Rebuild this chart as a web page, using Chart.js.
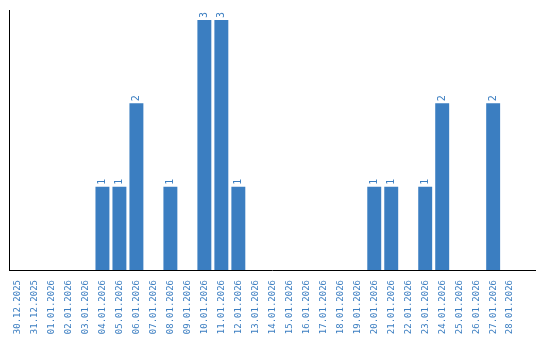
<!DOCTYPE html>
<html>
<head>
<meta charset="utf-8">
<script src="https://cdn.jsdelivr.net/npm/chart.js@4"></script>
<style>
    body { margin: 0; background: #fff; }
    #wrap { width: 540px; height: 340px; }
</style>
</head>
<body>
<div id="wrap"><canvas id="dayChart"></canvas></div>
<script>
// Data
const days = ['30.12.2025', '31.12.2025', '01.01.2026', '02.01.2026', '03.01.2026', '04.01.2026',
    '05.01.2026', '06.01.2026', '07.01.2026', '08.01.2026', '09.01.2026', '10.01.2026',
    '11.01.2026', '12.01.2026', '13.01.2026', '14.01.2026', '15.01.2026', '16.01.2026',
    '17.01.2026', '18.01.2026', '19.01.2026', '20.01.2026', '21.01.2026', '22.01.2026',
    '23.01.2026', '24.01.2026', '25.01.2026', '26.01.2026', '27.01.2026', '28.01.2026'];
const counts = [0, 0, 0, 0, 0, 1, 1, 2, 0, 1, 0, 3, 3, 1, 0, 0, 0, 0, 0, 0, 0, 1, 1, 0, 1, 2, 0, 0, 2, 0];

const blue = '#3b7ec1';
const font = { family: '"DejaVu Sans Mono", monospace', size: 9 };

// value labels above bars, rotated
const barLabels = {
    id: 'barLabels',
    afterDatasetsDraw(chart) {
        const ctx = chart.ctx;
        const meta = chart.getDatasetMeta(0);
        ctx.save();
        ctx.fillStyle = blue;
        ctx.font = '10px "DejaVu Sans Mono", monospace';
        ctx.textAlign = 'left';
        ctx.textBaseline = 'middle';
        meta.data.forEach((bar, i) => {
            if (!counts[i]) return;
            ctx.save();
            ctx.translate(bar.x, bar.y - 2);
            ctx.rotate(-Math.PI / 2);
            ctx.fillText(String(counts[i]), 0, 0);
            ctx.restore();
        });
        ctx.restore();
    }
};

const dayCtx = document.getElementById('dayChart').getContext('2d');
const dayChart = new Chart(dayCtx, {
    type: 'bar',
    data: {
        // one trailing empty slot, leaves room at the right end of the axis
        labels: [...days, ''],
        datasets: [{
            data: counts,
            backgroundColor: blue,
            borderWidth: 0,
            categoryPercentage: 1,
            barPercentage: 0.82
        }]
    },
    options: {
        responsive: true,
        maintainAspectRatio: false,
        animation: false,
        layout: { padding: { left: 9, top: 10, right: 4, bottom: 0 } },
        plugins: {
            legend: { display: false },
            tooltip: { enabled: false }
        },
        scales: {
            x: {
                grid: { display: false },
                border: { display: true, color: '#000', width: 1 },
                afterFit: scale => { scale.height = 70; },
                ticks: {
                    color: blue,
                    font: font,
                    autoSkip: false,
                    minRotation: 90,
                    maxRotation: 90,
                    padding: 2
                }
            },
            y: {
                min: 0,
                max: 3.12,
                grid: { display: false },
                border: { display: true, color: '#000', width: 1 },
                afterFit: scale => { scale.width = 0; },
                ticks: { display: false }
            }
        }
    },
    plugins: [barLabels]
});
</script>
</body>
</html>
